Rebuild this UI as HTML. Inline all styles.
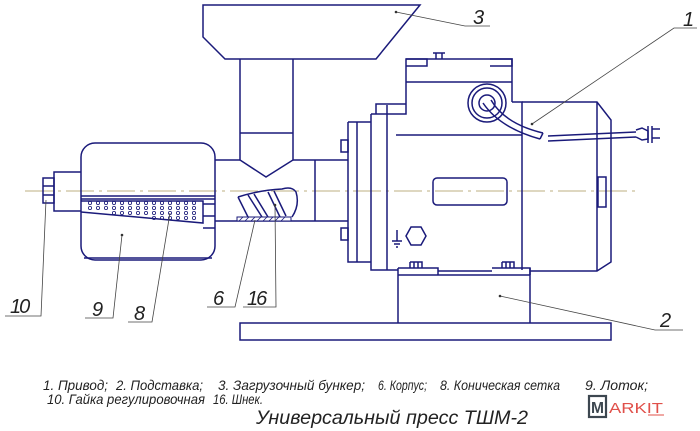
<!DOCTYPE html>
<html><head><meta charset="utf-8"><style>
html,body{margin:0;padding:0;background:#fff;}
svg{display:block;}
.l{fill:none;stroke:#1a1a7a;stroke-width:1.5;}
.t{stroke:#444;stroke-width:0.8;fill:none;}
.tx{font-family:"Liberation Sans",sans-serif;font-style:italic;fill:#222;}
</style></head><body>
<svg width="700" height="431" viewBox="0 0 700 431" xmlns="http://www.w3.org/2000/svg">
<rect width="700" height="431" fill="#fff"/>
<line x1="25" y1="191" x2="640" y2="191" stroke="#c9bf9a" stroke-width="1.3" stroke-dasharray="28,5,3,5"/>
<path class="l" d="M203 5 L420 5 L376 59 L225 59 L203 37 Z"/>
<path class="l" d="M240 59 V160 L266 177 L293 160 V59 M240 133 H293"/>
<path class="l" d="M215 160 H240 M293 160 H348 M215 221 H348 M315 160 V221"/>
<rect class="l" x="81" y="143" width="134" height="117" rx="14"/>
<path class="l" d="M84 258 H212" />
<path class="l" d="M81 196 H215 M81 199 H215"/>
<path class="l" d="M81 201 L203 201 L203 223 L81 212"/>
<path class="l" d="M203 204 H215 M203 216 H215 M203 228 H215"/>
<g fill="none" stroke="#1a1a7a" stroke-width="0.8">
<circle cx="90" cy="203" r="1.6"/><circle cx="90" cy="208" r="1.6"/>
<circle cx="98" cy="203" r="1.6"/><circle cx="98" cy="208" r="1.6"/>
<circle cx="106" cy="203" r="1.6"/><circle cx="106" cy="208" r="1.6"/>
<circle cx="114" cy="203" r="1.6"/><circle cx="114" cy="208" r="1.6"/><circle cx="114" cy="213" r="1.6"/>
<circle cx="122" cy="203" r="1.6"/><circle cx="122" cy="208" r="1.6"/><circle cx="122" cy="213" r="1.6"/>
<circle cx="130" cy="203" r="1.6"/><circle cx="130" cy="208" r="1.6"/><circle cx="130" cy="213" r="1.6"/>
<circle cx="138" cy="203" r="1.6"/><circle cx="138" cy="208" r="1.6"/><circle cx="138" cy="213" r="1.6"/>
<circle cx="146" cy="203" r="1.6"/><circle cx="146" cy="208" r="1.6"/><circle cx="146" cy="213" r="1.6"/>
<circle cx="154" cy="203" r="1.6"/><circle cx="154" cy="208" r="1.6"/><circle cx="154" cy="213" r="1.6"/><circle cx="154" cy="218" r="1.6"/>
<circle cx="162" cy="203" r="1.6"/><circle cx="162" cy="208" r="1.6"/><circle cx="162" cy="213" r="1.6"/><circle cx="162" cy="218" r="1.6"/>
<circle cx="170" cy="203" r="1.6"/><circle cx="170" cy="208" r="1.6"/><circle cx="170" cy="213" r="1.6"/><circle cx="170" cy="218" r="1.6"/>
<circle cx="178" cy="203" r="1.6"/><circle cx="178" cy="208" r="1.6"/><circle cx="178" cy="213" r="1.6"/><circle cx="178" cy="218" r="1.6"/>
<circle cx="186" cy="203" r="1.6"/><circle cx="186" cy="208" r="1.6"/><circle cx="186" cy="213" r="1.6"/><circle cx="186" cy="218" r="1.6"/>
<circle cx="194" cy="203" r="1.6"/><circle cx="194" cy="208" r="1.6"/><circle cx="194" cy="213" r="1.6"/><circle cx="194" cy="218" r="1.6"/>
</g>
<path class="l" d="M81 172 H54 V211 H81"/>
<rect class="l" x="43" y="178" width="11" height="25"/>
<path class="l" d="M43 186 H54 M43 195 H54" stroke-width="0.8"/>
<path class="l" d="M238 197 Q260 190 282 189 Q292 186 296 192 Q300 205 292 217 M238 197 L248 217" stroke-width="1.2"/>
<path class="l" d="M248 195 L262 217 M254 194 L268 217 M268 192 L280 217 M274 191 L286 216" stroke-width="1.1"/>
<rect x="237" y="217" width="54" height="4" fill="#fff" stroke="#1a1a7a" stroke-width="1"/>
<path d="M239 221 l4 -4 M245 221 l4 -4 M251 221 l4 -4 M257 221 l4 -4 M263 221 l4 -4 M269 221 l4 -4 M275 221 l4 -4 M281 221 l4 -4" stroke="#1a1a7a" stroke-width="0.8"/>
<path class="l" d="M348 122 V262 H371 M357 122 V262 M348 122 H371"/>
<rect class="l" x="341" y="140" width="7" height="12"/>
<rect class="l" x="341" y="228" width="7" height="12"/>
<path class="l" d="M371 114 V270 H398 M387 105 V270 M371 114 H376 V104 H406 M376 114 H406 V105"/>
<path class="l" d="M406 105 V59 H512 V102 M406 82 H512"/>
<path class="l" d="M406 59 H427 V66 H406 M490 59 H512 V66 H490 M436 59 V53 H442 V59 M433 53 H445"/>
<path class="l" d="M512 102 H522 V270 M396 135 H522"/>
<path class="l" d="M522 102 H597 L611 120 V262 L597 271 H530 M597 102 V271"/>
<rect class="l" x="598" y="177" width="8" height="30"/>
<rect class="l" x="433" y="178" width="74" height="27" rx="4"/>
<path class="l" d="M397 230 V241 M392 241 H402 M394 244 H400 M396 247 H398" stroke-width="1"/>
<polygon class="l" points="406,236 411,227 421,227 426,236 421,245 411,245"/>
<circle class="l" cx="487" cy="103" r="19"/>
<circle class="l" cx="487" cy="103" r="15" stroke-width="1"/>
<circle class="l" cx="487" cy="103" r="8"/>
<path class="l" d="M483 103 Q500 128 540 139 M491 100 Q505 124 543 133 M540 139 L543 133"/>
<path class="l" d="M548 136 L636 132 M548 141 L636 137 M636 130 L642 128 L648 131 L648 139 L642 140 L636 137" stroke-width="1.2"/>
<path class="l" d="M648 126 V143 M652 126 V143 M652 129 H660 M652 138 H660" stroke-width="1.2"/>
<path class="l" d="M398 268 H438 V275 M492 268 H530 V275 M438 271 H492"/>
<path class="l" d="M410 262 V268 M414 262 V268 M418 262 V268 M410 262 H422 V268 M502 262 V268 M506 262 V268 M510 262 V268 M502 262 H514 V268" stroke-width="1"/>
<path class="l" d="M398 268 V323 M530 268 V323 M398 275 H530"/>
<rect class="l" x="240" y="323" width="371" height="17"/>
<g class="t">
<path d="M396 12 L465 26 H490"/>
<path d="M532 124 L674 28 H697"/>
<path d="M500 296 L655 330 H683"/>
<path d="M46 200 L41 316 H5"/>
<path d="M122 235 L113 318 H85"/>
<path d="M170 213 L152 322 H128"/>
<path d="M255 220 L235 307 H207"/>
<path d="M275 205 L276 307 H243"/>
</g>
<g fill="#333"><circle cx="396" cy="12" r="1.3"/><circle cx="532" cy="124" r="1.3"/><circle cx="500" cy="296" r="1.3"/><circle cx="122" cy="235" r="1.3"/><circle cx="275" cy="205" r="1.3"/></g>
<g class="tx" font-size="20">
<text x="473" y="24">3</text>
<text x="683" y="26">1</text>
<text x="660" y="327">2</text>
<text x="10" y="313" letter-spacing="-2">10</text>
<text x="92" y="316">9</text>
<text x="134" y="320">8</text>
<text x="213" y="305">6</text>
<text x="247" y="305" letter-spacing="-2">16</text>
</g>
<g class="tx" font-size="14">
<text x="43" y="390" textLength="65" lengthAdjust="spacingAndGlyphs">1. Привод;</text>
<text x="116" y="390" textLength="87" lengthAdjust="spacingAndGlyphs">2. Подставка;</text>
<text x="218" y="390" textLength="147" lengthAdjust="spacingAndGlyphs">3. Загрузочный бункер;</text>
<text x="378" y="390" textLength="49" lengthAdjust="spacingAndGlyphs">6. Корпус;</text>
<text x="440" y="390" textLength="120" lengthAdjust="spacingAndGlyphs">8. Коническая сетка</text>
<text x="585" y="390" textLength="63" lengthAdjust="spacingAndGlyphs">9. Лоток;</text>
<text x="47" y="404" textLength="158" lengthAdjust="spacingAndGlyphs">10. Гайка регулировочная</text>
<text x="213" y="404" textLength="50" lengthAdjust="spacingAndGlyphs">16. Шнек.</text>
</g>
<text class="tx" x="256" y="424" font-size="19" textLength="272" lengthAdjust="spacingAndGlyphs">Универсальный пресс ТШМ-2</text>
<rect x="589" y="396" width="17" height="21" fill="none" stroke="#3d4750" stroke-width="2.2"/>
<text x="591" y="413" font-family="Liberation Sans,sans-serif" font-weight="bold" font-size="16" fill="#3d4750" textLength="13" lengthAdjust="spacingAndGlyphs">M</text>
<text x="609" y="413" font-family="Liberation Sans,sans-serif" font-size="15" fill="#e0504a" textLength="54" lengthAdjust="spacingAndGlyphs">ARKIT</text>
<line x1="648" y1="415" x2="664" y2="415" stroke="#e0504a" stroke-width="1"/>
</svg>
</body></html>
